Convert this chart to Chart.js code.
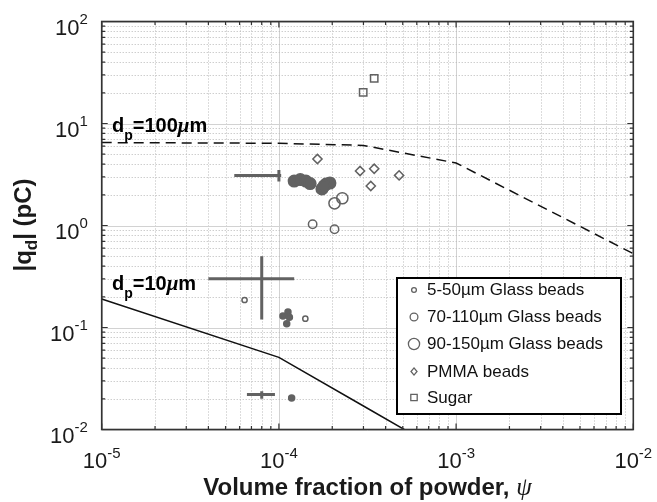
<!DOCTYPE html>
<html>
<head>
<meta charset="utf-8">
<script src="https://cdn.jsdelivr.net/npm/chart.js@4.4.0/dist/chart.umd.min.js"></script>
<style>
  body { margin: 0; background: #fff; }
  #wrap { width: 657px; height: 502px; }
</style>
</head>
<body>
<div id="wrap"><canvas id="chart" width="657" height="502"></canvas></div>
<script>
// model curves for the two particle sizes
const curveX = [1e-5, 1e-4, 3e-4, 1e-3, 1e-2]
const q100um = [6.5, 6.4, 6.1, 4.1, 0.53]
const q10um = [0.19, 0.051, 0.017, 0.0051, 0.00051]

// measured charges, by powder
const glass5X = [6.4e-5, 1.41e-4]
const glass5Y = [0.186, 0.122]
const glass70X = [1.55e-4, 2.06e-4]
const glass70Y = [1.03, 0.92]
const glass90X = [2.06e-4, 2.28e-4]
const glass90Y = [1.65, 1.85]
const pmmaX = [1.65e-4, 2.87e-4, 3.45e-4, 3.30e-4, 4.77e-4]
const pmmaY = [4.49, 3.42, 3.6, 2.44, 3.1]
const sugarX = [2.99e-4, 3.45e-4]
const sugarY = [20.2, 27.7]

// filled points (large and small)
const bigDotX = [1.22e-4, 1.32e-4, 1.42e-4, 1.50e-4, 1.75e-4, 1.845e-4, 1.94e-4, 1.80e-4]
const bigDotY = [2.73, 2.82, 2.73, 2.58, 2.28, 2.55, 2.61, 2.44]
const smallDotX = [1.054e-4, 1.125e-4, 1.146e-4, 1.107e-4, 1.18e-4]
const smallDotY = [0.130, 0.142, 0.126, 0.109, 0.0204]

// error crosses: centre and ranges
const crossX = [1.0e-4, 8.0e-5, 8.0e-5]
const crossY = [3.1, 0.30, 0.022]
const crossXLo = [5.6e-5, 4.0e-5, 6.6e-5]
const crossXHi = [1.03e-4, 1.22e-4, 9.5e-5]
const crossYLo = [2.7, 0.12, 0.020]
const crossYHi = [3.5, 0.50, 0.0237]

const xTickExps = [-5, -4, -3, -2]
const yTickExps = [-2, -1, 0, 1, 2]
const legendLabels = ["5-50\u00b5m Glass beads", "70-110\u00b5m Glass beads", "90-150\u00b5m Glass beads", "PMMA beads", "Sugar"]

const gray = "rgb(98,98,98)"
const sans = "'Liberation Sans', Arial, sans-serif"

function points(xs, ys) {
    return xs.map((x, i) => ({ x, y: ys[i] }))
}

function markerSet(xs, ys, style, radius, filled) {
    return {
        type: "scatter",
        data: points(xs, ys),
        pointStyle: style,
        pointRadius: radius,
        pointBorderWidth: 1.5,
        borderColor: gray,
        backgroundColor: filled ? gray : "rgba(0,0,0,0)"
    }
}

function lineSet(data, color, width, dash) {
    return {
        type: "line",
        data,
        borderColor: color,
        borderWidth: width,
        borderDash: dash || [],
        pointRadius: 0,
        fill: false,
        tension: 0
    }
}

const datasets = [
    markerSet(glass5X, glass5Y, "circle", 2.6, false),
    markerSet(glass70X, glass70Y, "circle", 4.2, false),
    markerSet(glass90X, glass90Y, "circle", 5.6, false),
    markerSet(pmmaX, pmmaY, "rectRot", 4.6, false),
    markerSet(sugarX, sugarY, "rect", 5.2, false),
    markerSet(bigDotX, bigDotY, "circle", 5.8, true),
    markerSet(smallDotX, smallDotY, "circle", 3, true)
]

crossX.forEach((cx, i) => {
    datasets.push(lineSet([{ x: crossXLo[i], y: crossY[i] }, { x: crossXHi[i], y: crossY[i] }], gray, 3))
    datasets.push(lineSet([{ x: cx, y: crossYLo[i] }, { x: cx, y: crossYHi[i] }], gray, 3))
})

datasets.push(lineSet(points(curveX, q100um), "#111", 1.5, [10, 6]))
datasets.push(lineSet(points(curveX, q10um), "#111", 1.5))

function logSteps(min, max) {
    const steps = []
    for (let e = Math.round(Math.log10(min)); e < Math.round(Math.log10(max)); e++) {
        for (let m = 1; m <= 9; m++) steps.push([m * Math.pow(10, e), m === 1])
    }
    steps.push([max, true])
    return steps
}

function drawRuns(ctx, x, y, runs, align) {
    let total = 0
    runs.forEach((r) => {
        ctx.font = r.font
        r.w = ctx.measureText(r.text).width
        total += r.w
    })
    let cx = align === "center" ? x - total / 2 : x
    runs.forEach((r) => {
        ctx.font = r.font
        ctx.fillText(r.text, cx, y + (r.dy || 0))
        cx += r.w
    })
}

const gridPlugin = {
    id: "gridPlugin",
    beforeDatasetsDraw(chart) {
        const { ctx, chartArea: a, scales: { x, y } } = chart
        ctx.save()
        ctx.lineWidth = 1
        logSteps(x.min, x.max).forEach(([v, major]) => {
            const px = Math.round(x.getPixelForValue(v)) + 0.5
            ctx.strokeStyle = major ? "#d2d2d2" : "#b8b8b8"
            ctx.setLineDash(major ? [] : [1, 2])
            ctx.beginPath()
            ctx.moveTo(px, a.top)
            ctx.lineTo(px, a.bottom)
            ctx.stroke()
        })
        logSteps(y.min, y.max).forEach(([v, major]) => {
            const py = Math.round(y.getPixelForValue(v)) + 0.5
            ctx.strokeStyle = major ? "#d2d2d2" : "#b8b8b8"
            ctx.setLineDash(major ? [] : [1, 2])
            ctx.beginPath()
            ctx.moveTo(a.left, py)
            ctx.lineTo(a.right, py)
            ctx.stroke()
        })
        ctx.restore()
    }
}

const framePlugin = {
    id: "framePlugin",
    afterDatasetsDraw(chart) {
        const { ctx, chartArea: a, scales: { x, y } } = chart
        ctx.save()
        ctx.strokeStyle = "#333"
        ctx.lineWidth = 1.2
        logSteps(x.min, x.max).forEach(([v, major]) => {
            const px = x.getPixelForValue(v)
            const len = major ? 6 : 3.5
            ctx.beginPath()
            ctx.moveTo(px, a.bottom)
            ctx.lineTo(px, a.bottom - len)
            ctx.moveTo(px, a.top)
            ctx.lineTo(px, a.top + len)
            ctx.stroke()
        })
        logSteps(y.min, y.max).forEach(([v, major]) => {
            const py = y.getPixelForValue(v)
            const len = major ? 6 : 3.5
            ctx.beginPath()
            ctx.moveTo(a.left, py)
            ctx.lineTo(a.left + len, py)
            ctx.moveTo(a.right, py)
            ctx.lineTo(a.right - len, py)
            ctx.stroke()
        })
        ctx.lineWidth = 1.6
        ctx.strokeRect(a.left, a.top, a.right - a.left, a.bottom - a.top)

        // tick labels, 10 with a raised exponent
        ctx.fillStyle = "#1a1a1a"
        ctx.textBaseline = "alphabetic"
        const big = `22px ${sans}`
        const sup = `15px ${sans}`
        xTickExps.forEach((e) => {
            const px = x.getPixelForValue(Math.pow(10, e))
            drawRuns(ctx, px, 468, [{ text: "10", font: big }, { text: String(e), font: sup, dy: -10 }], "center")
        })
        yTickExps.forEach((e) => {
            const py = y.getPixelForValue(Math.pow(10, e))
            const left = e < 0 ? 50 : 55
            drawRuns(ctx, left, py + 13.5, [{ text: "10", font: big }, { text: String(e), font: sup, dy: -11 }], "left")
        })

        // axis titles
        const title = `bold 24px ${sans}`
        drawRuns(ctx, (a.left + a.right) / 2, 495, [
            { text: "Volume fraction of powder, ", font: title },
            { text: "\u03c8", font: `italic 25px 'Liberation Serif', 'DejaVu Serif', serif` }
        ], "center")
        ctx.save()
        ctx.translate(31, 225)
        ctx.rotate(-Math.PI / 2)
        drawRuns(ctx, 0, 0, [
            { text: "|q", font: title },
            { text: "d", font: `bold 17px ${sans}`, dy: 6 },
            { text: "| (pC)", font: title }
        ], "center")
        ctx.restore()

        // curve labels
        ctx.fillStyle = "#000"
        const ann = `bold 20px ${sans}`
        const annSub = `bold 14px ${sans}`
        const mu = `italic bold 21px 'Liberation Serif', 'DejaVu Serif', serif`
        drawRuns(ctx, 112, 132, [
            { text: "d", font: ann }, { text: "p", font: annSub, dy: 8 },
            { text: "=100", font: ann }, { text: "\u03bc", font: mu }, { text: "m", font: ann }
        ], "left")
        drawRuns(ctx, 112, 290, [
            { text: "d", font: ann }, { text: "p", font: annSub, dy: 8 },
            { text: "=10", font: ann }, { text: "\u03bc", font: mu }, { text: "m", font: ann }
        ], "left")
        ctx.restore()
    }
}

// boxed legend inside the lower right of the axes
const legendPlugin = {
    id: "legendPlugin",
    afterDraw(chart) {
        const { ctx } = chart
        const box = { x: 397, y: 278, w: 224, h: 136 }
        ctx.save()
        ctx.fillStyle = "#fff"
        ctx.fillRect(box.x, box.y, box.w, box.h)
        ctx.strokeStyle = "#000"
        ctx.lineWidth = 2
        ctx.strokeRect(box.x, box.y, box.w, box.h)
        const rowY = [290, 317, 344, 371.5, 397.5]
        const mx = 414
        ctx.strokeStyle = gray
        ctx.lineWidth = 1.3
        const radii = [2.4, 3.9, 5.6]
        rowY.forEach((ry, i) => {
            ctx.beginPath()
            if (i < 3) {
                ctx.arc(mx, ry, radii[i], 0, Math.PI * 2)
            } else if (i === 3) {
                ctx.moveTo(mx, ry - 3.6)
                ctx.lineTo(mx + 3, ry)
                ctx.lineTo(mx, ry + 3.6)
                ctx.lineTo(mx - 3, ry)
                ctx.closePath()
            } else {
                ctx.rect(mx - 3.2, ry - 3.2, 6.4, 6.4)
            }
            ctx.stroke()
        })
        ctx.fillStyle = "#111"
        ctx.font = `17px ${sans}`
        ctx.textBaseline = "middle"
        legendLabels.forEach((label, i) => {
            ctx.fillText(label, 427, rowY[i] + 0.5)
        })
        ctx.restore()
    }
}

new Chart(document.getElementById("chart"), {
    data: { datasets },
    options: {
        responsive: false,
        devicePixelRatio: 1,
        animation: false,
        layout: { padding: { left: 101.7, right: 23.7, top: 21.5, bottom: 72.5 } },
        plugins: { legend: { display: false }, tooltip: { enabled: false } },
        scales: {
            x: { type: "logarithmic", min: 1e-5, max: 1e-2, display: false },
            y: { type: "logarithmic", min: 1e-2, max: 1e2, display: false }
        }
    },
    plugins: [gridPlugin, framePlugin, legendPlugin]
})
</script>
</body>
</html>
